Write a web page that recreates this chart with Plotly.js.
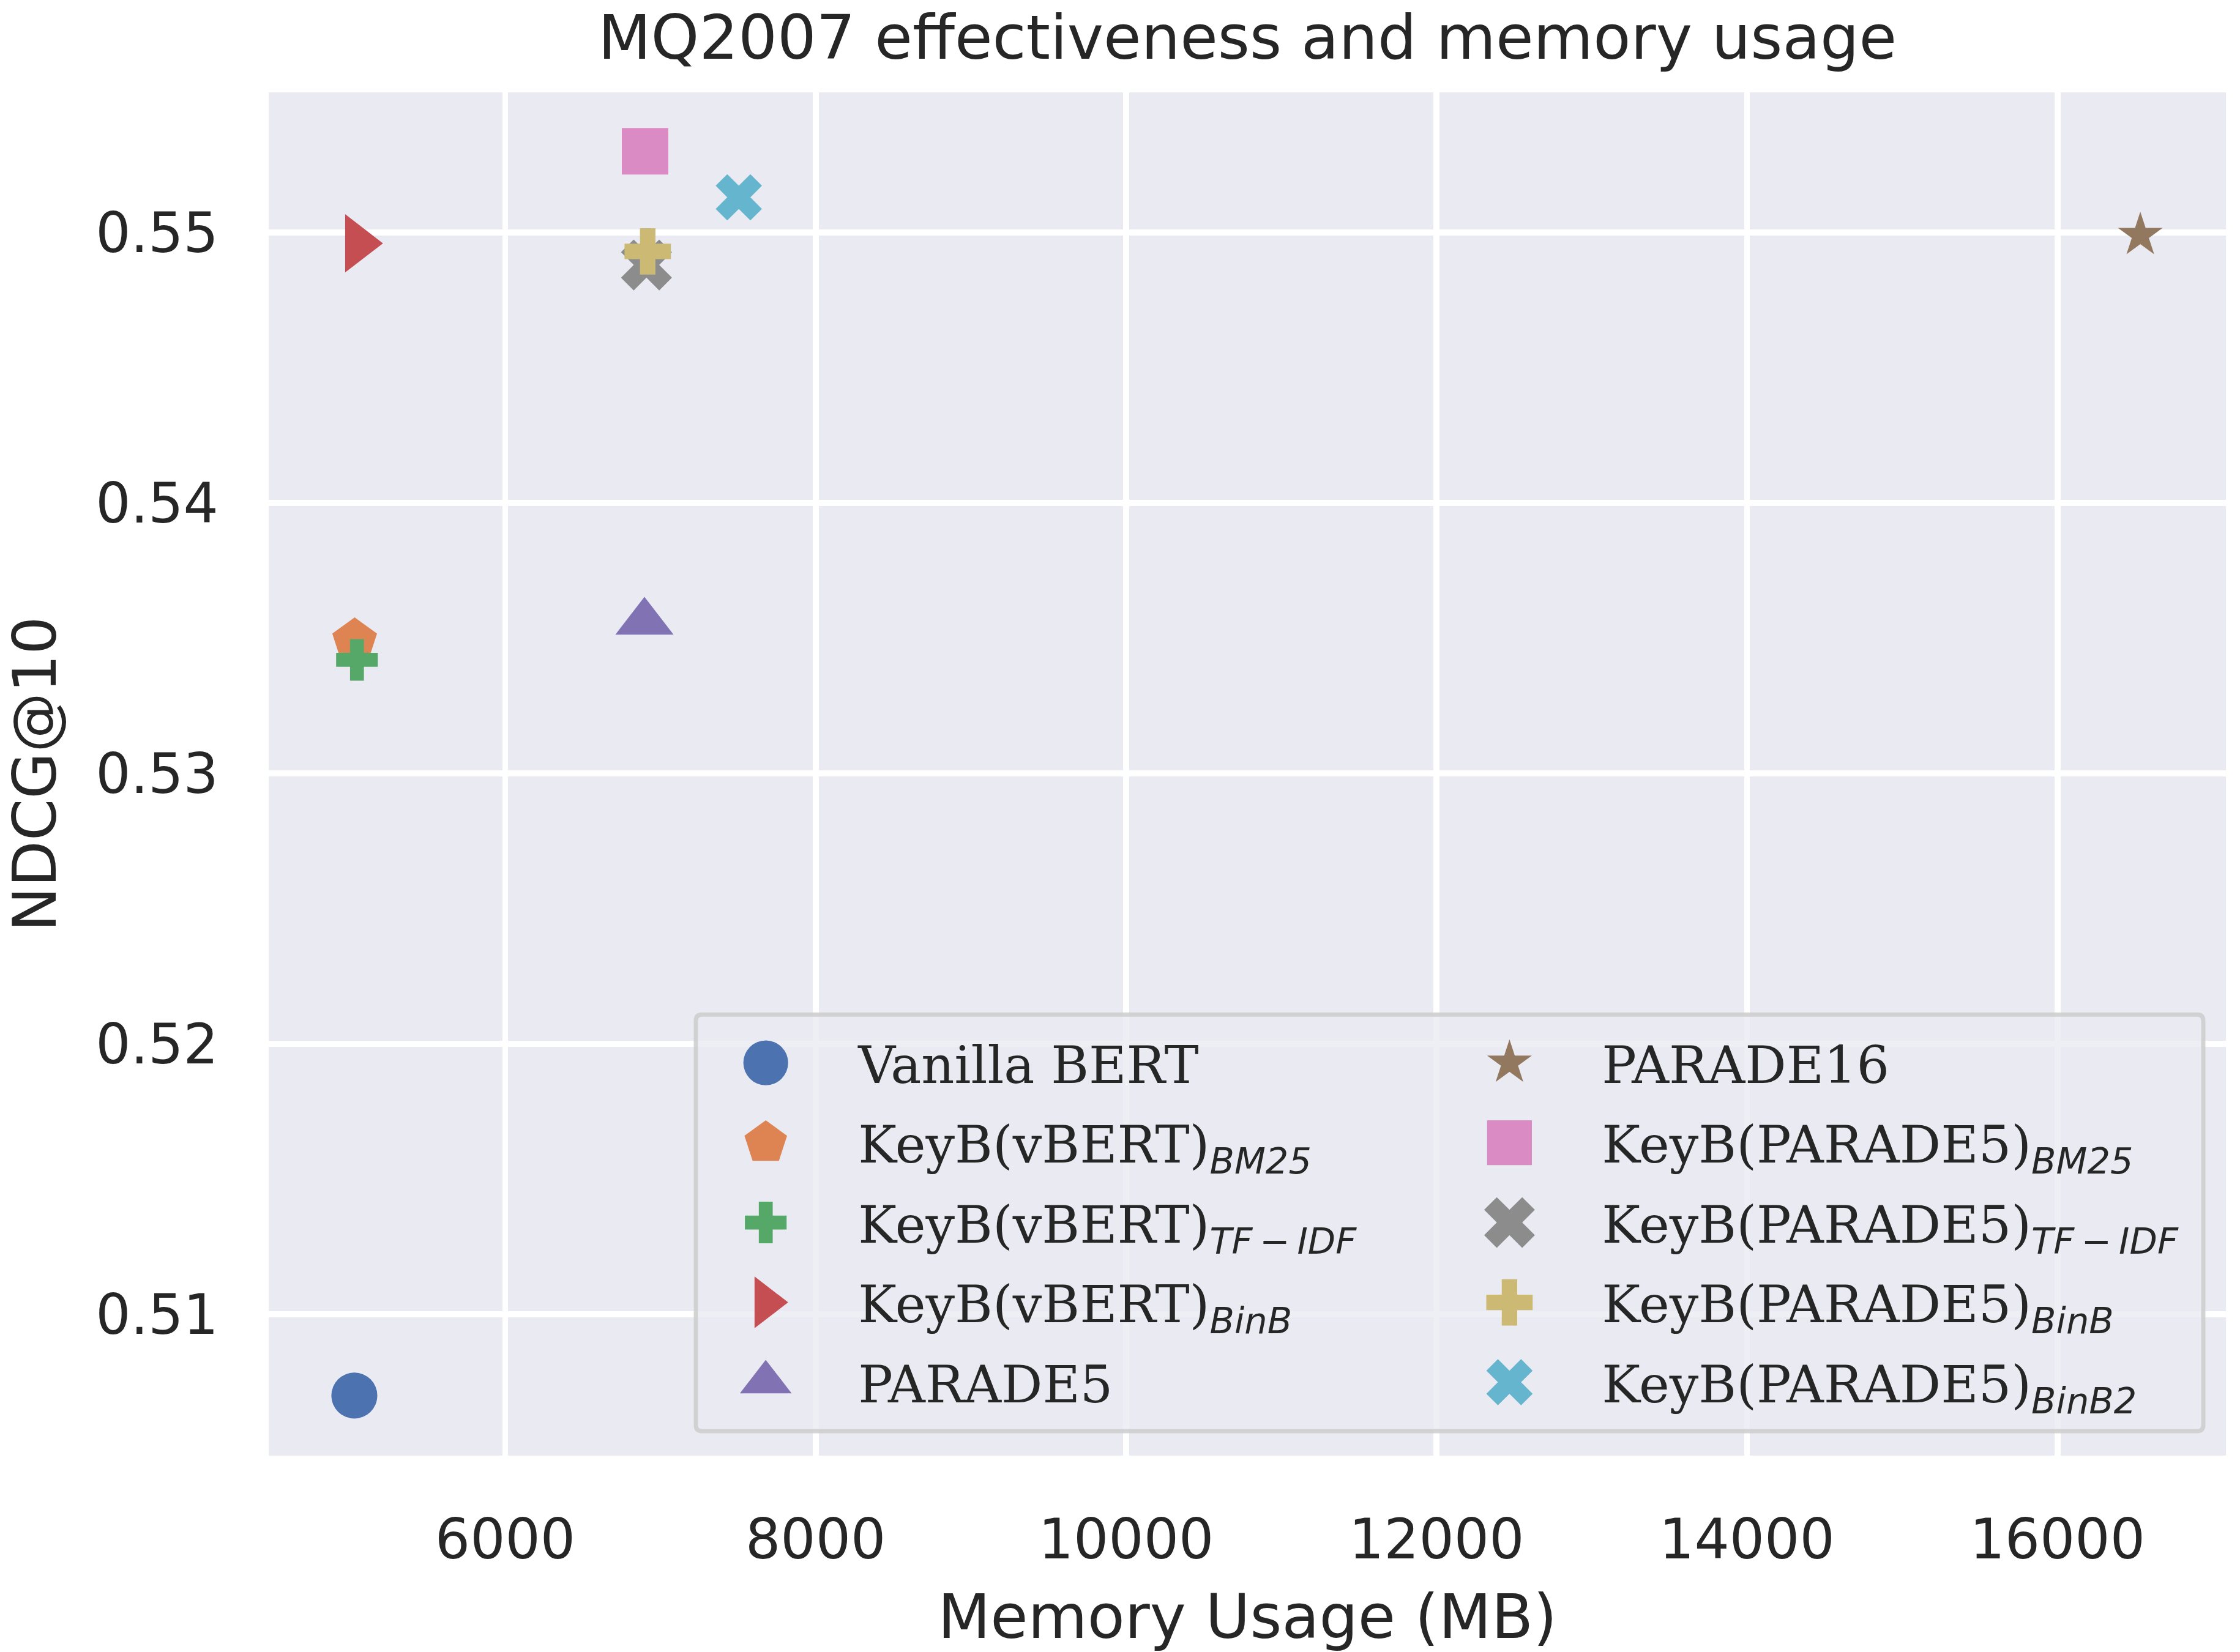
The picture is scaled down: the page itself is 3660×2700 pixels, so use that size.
<!DOCTYPE html>
<html>
<head>
<meta charset="utf-8">
<script src="https://cdn.plot.ly/plotly-3.0.1.min.js"></script>
<style>
html,body{margin:0;padding:0;background:#fff;}
#wrap{width:3660px;height:2700px;overflow:hidden;position:relative;}
#plot{width:800px;height:590.16px;transform:scale(4.575);transform-origin:0 0;position:absolute;left:0;top:0;}
</style>
</head>
<body>
<div id="wrap"><div id="plot"></div></div>
<script>
// ---- data ----
function sub(t){ return '<span style="font-family:DejaVu Sans;font-style:italic;font-size:12.9px;baseline-shift:-4px">' + t + '</span>'; }
const modelNames = [
  'Vanilla BERT',
  'KeyB(vBERT)' + sub('BM25'),
  'KeyB(vBERT)' + sub('TF\u2009\u2212\u2009IDF'),
  'KeyB(vBERT)' + sub('BinB'),
  'PARADE5',
  'PARADE16',
  'KeyB(PARADE5)' + sub('BM25'),
  'KeyB(PARADE5)' + sub('TF\u2009\u2212\u2009IDF'),
  'KeyB(PARADE5)' + sub('BinB'),
  'KeyB(PARADE5)' + sub('BinB2')
];
const memoryMB = [5028, 5030, 5045, 5050, 6897, 16534, 6901, 6910, 6918, 7505];
const ndcgAt10 = [0.5070, 0.5349, 0.5342, 0.5496, 0.5356, 0.5499, 0.5530, 0.5488, 0.5493, 0.5513];
const xTickVals = [6000, 8000, 10000, 12000, 14000, 16000];
const yTickVals = [0.51, 0.52, 0.53, 0.54, 0.55];

// ---- styles ----
const colors = ['#4C72B0','#DD8452','#55A868','#C44E52','#8172B3','#937860','#DA8BC3','#8C8C8C','#CCB974','#64B5CD'];
const symbols = ['circle','pentagon','cross','triangle-right','triangle-up','star','square','x','cross','x'];
const sizes = [16.4, 16.8, 12.4, 18, 18, 12.0, 16.6, 16.1, 13.8, 14.6];
const legendOf = ['legend','legend','legend','legend','legend','legend2','legend2','legend2','legend2','legend2'];

const traces = modelNames.map(function(n, i){
  return {
    type: 'scatter', mode: 'markers',
    x: [memoryMB[i]], y: [ndcgAt10[i]],
    name: n,
    legend: legendOf[i],
    legendgroup: 'g' + i,
    marker: {color: colors[i], symbol: symbols[i], size: sizes[i], line: {width: 0}},
    hoverinfo: 'skip'
  };
});

const txt = '#262626';
const legendCommon = {
  font: {family: 'DejaVu Serif', size: 18.4, color: txt},
  bgcolor: 'rgba(0,0,0,0)', borderwidth: 0,
  itemwidth: 56, traceorder: 'grouped', tracegroupgap: 1.6,
  xanchor: 'left', yanchor: 'top', orientation: 'v',
  xref: 'paper', yref: 'paper'
};

const x0 = 0.2182, x1 = 0.9884, y0 = 0.0179, y1 = 0.3235, rx = 0.003, ry = 0.0045;
const boxPath = 'M' + (x0+rx) + ',' + y0 + ' L' + (x1-rx) + ',' + y0 + ' Q' + x1 + ',' + y0 + ' ' + x1 + ',' + (y0+ry) +
  ' L' + x1 + ',' + (y1-ry) + ' Q' + x1 + ',' + y1 + ' ' + (x1-rx) + ',' + y1 +
  ' L' + (x0+rx) + ',' + y1 + ' Q' + x0 + ',' + y1 + ' ' + x0 + ',' + (y1-ry) +
  ' L' + x0 + ',' + (y0+ry) + ' Q' + x0 + ',' + y0 + ' ' + (x0+rx) + ',' + y0 + ' Z';

const layout = {
  width: 800, height: 590.16, autosize: false,
  margin: {l: 96.0, r: 4.8, t: 33.2, b: 69.7, pad: 0},
  paper_bgcolor: '#ffffff', plot_bgcolor: '#EAEAF2',
  font: {family: 'DejaVu Sans', color: txt},
  title: {text: 'MQ2007 effectiveness and memory usage', font: {family: 'DejaVu Sans', size: 21.9, color: txt},
          x: 0.5, xref: 'paper', y: 1, yref: 'paper', xanchor: 'center', yanchor: 'bottom', pad: {b: 12}},
  xaxis: {
    range: [4477, 17086], tickvals: xTickVals, ticktext: xTickVals.map(String),
    showgrid: true, gridcolor: '#ffffff', gridwidth: 2.1, zeroline: false, showline: false,
    ticks: '', ticklabelstandoff: 16,
    tickfont: {family: 'DejaVu Sans', size: 19.7, color: txt},
    title: {text: 'Memory Usage (MB)', font: {family: 'DejaVu Sans', size: 21.8, color: txt}, standoff: 10}
  },
  yaxis: {
    range: [0.50478, 0.55518], tickvals: yTickVals, ticktext: yTickVals.map(function(v){return v.toFixed(2);}),
    showgrid: true, gridcolor: '#ffffff', gridwidth: 2.1, zeroline: false, showline: false,
    ticks: '', ticklabelstandoff: 17,
    tickfont: {family: 'DejaVu Sans', size: 19.7, color: txt},
    title: {text: 'NDCG@10', font: {family: 'DejaVu Sans', size: 21.4, color: txt}, standoff: 8}
  },
  showlegend: true,
  legend: Object.assign({}, legendCommon, {x: 0.2067, y: 0.326}),
  legend2: Object.assign({}, legendCommon, {x: 0.5867, y: 0.326}),
  shapes: [{type: 'path', xref: 'paper', yref: 'paper', path: boxPath,
            fillcolor: 'rgba(234,234,242,0.8)', line: {color: 'rgba(204,204,204,0.85)', width: 1.5}, layer: 'above'}]
};

Plotly.newPlot('plot', traces, layout, {staticPlot: true, displayModeBar: false});
</script>
</body>
</html>
